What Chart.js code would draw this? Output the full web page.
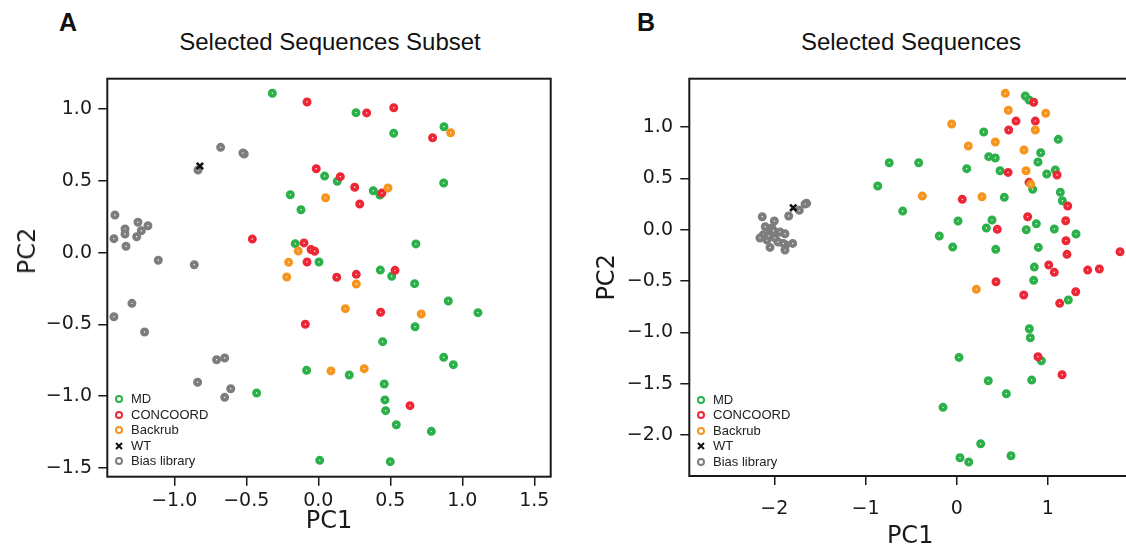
<!DOCTYPE html>
<html>
<head>
<meta charset="utf-8">
<script src="https://cdn.jsdelivr.net/npm/chart.js@4.4.0/dist/chart.umd.min.js"></script>
<style>
  html, body { margin: 0; padding: 0; background: #fff; }
  body { width: 1126px; height: 547px; overflow: hidden; position: relative; }
  canvas { position: absolute; top: 0; }
  .lbl { position: absolute; font-family: "Liberation Sans", Arial, sans-serif; color: #111; white-space: nowrap; }
  .letter { font-weight: bold; font-size: 25px; }
  .title { font-size: 24px; transform: translateX(-50%); }
  .axtitle { position: absolute; font-family: "DejaVu Sans", sans-serif; font-size: 24px; color: #1a1a1a; white-space: nowrap;
             transform: translate(-50%, -50%) rotate(-90deg); }
  .legend { position: absolute; font-family: "Liberation Sans", Arial, sans-serif; font-size: 13px; color: #222; }
  .legend .row { height: 15.5px; line-height: 15.5px; position: relative; padding-left: 18px; }
  .legend .mk { position: absolute; left: 2px; top: 4px; width: 4px; height: 4px; border: 2px solid; border-radius: 50%; }
  .legend svg { position: absolute; left: 2px; top: 4px; }
</style>
</head>
<body>
<div class="lbl letter" style="left:59px; top:8px;">A</div>
<div class="lbl title" style="left:330px; top:28px;">Selected Sequences Subset</div>
<div class="lbl letter" style="left:637px; top:8px;">B</div>
<div class="lbl title" style="left:911px; top:28px;">Selected Sequences</div>

<canvas id="chartA" width="563" height="560" style="left:0px; width:563px; height:560px;"></canvas>
<canvas id="chartB" width="560" height="560" style="left:580px; width:560px; height:560px;"></canvas>

<div class="axtitle" style="left:27px; top:251px;">PC2</div>

<div class="legend" id="legendA" style="left:113px; top:391px;"></div>
<div class="legend" id="legendB" style="left:695px; top:391.5px;"></div>

<script>
// series names and colours
const seriesNames = ['MD', 'CONCOORD', 'Backrub', 'WT', 'Bias library'];
const seriesColors = ['#2cb04a', '#ee2737', '#f7941d', '#111111', '#7d7d7d'];

// ---- Panel A: Selected Sequences Subset (PC1, PC2) ----
const aMD = [
  [-0.319, 1.111], [0.044, 0.534], [-0.194, 0.404], [-0.120, 0.299], [-0.160, 0.063],
  [0.005, -0.065], [0.262, 0.976], [0.524, 0.832], [0.873, 0.878], [0.132, 0.498],
  [0.382, 0.432], [0.428, 0.402], [0.871, 0.486], [0.678, 0.061], [0.431, -0.121],
  [0.510, -0.164], [0.669, -0.216], [0.903, -0.337], [1.109, -0.418], [0.672, -0.516],
  [0.447, -0.620], [0.871, -0.729], [0.938, -0.780], [0.215, -0.852], [0.458, -0.915],
  [0.463, -1.026], [0.468, -1.101], [0.542, -1.199], [0.785, -1.245], [-0.081, -0.820],
  [-0.428, -0.978], [0.010, -1.447], [0.500, -1.456]
];
const aCONCOORD = [
  [-0.078, 1.050], [0.336, 0.974], [0.524, 1.010], [0.794, 0.801], [-0.014, 0.585],
  [0.153, 0.530], [0.253, 0.456], [0.442, 0.416], [0.288, 0.339], [-0.458, 0.095],
  [-0.099, 0.068], [-0.050, 0.022], [-0.025, 0.010], [-0.078, -0.065], [0.128, -0.171],
  [0.264, -0.151], [0.533, -0.123], [0.433, -0.415], [-0.090, -0.499], [0.637, -1.066]
];
const aBackrub = [
  [0.919, 0.836], [0.051, 0.383], [0.484, 0.451], [-0.139, 0.012], [-0.206, -0.067],
  [-0.219, -0.169], [0.264, -0.218], [0.188, -0.390], [0.715, -0.427], [0.088, -0.824],
  [0.319, -0.808]
];
const aWT = [[-0.822, 0.604]];
const aBias = [
  [-0.678, 0.734], [-0.514, 0.688], [-0.523, 0.695], [-0.835, 0.576], [-1.412, 0.263],
  [-1.252, 0.212], [-1.183, 0.188], [-1.342, 0.165], [-1.229, 0.153], [-1.342, 0.130],
  [-1.419, 0.098], [-1.261, 0.111], [-1.335, 0.045], [-1.111, -0.053], [-0.861, -0.084],
  [-1.294, -0.353], [-1.419, -0.446], [-1.206, -0.553], [-0.706, -0.746], [-0.650, -0.734],
  [-0.838, -0.903], [-0.608, -0.948], [-0.650, -1.008]
];
const aXTicks = [-1.0, -0.5, 0.0, 0.5, 1.0, 1.5];
const aYTicks = [-1.5, -1.0, -0.5, 0.0, 0.5, 1.0];
const aXRange = [-1.465, 1.614];
const aYRange = [-1.561, 1.2125];

// ---- Panel B: Selected Sequences (PC1, PC2) ----
const bMD = [
  [-0.866, 0.426], [-0.740, 0.653], [0.752, 1.303], [0.793, 1.264], [0.296, 0.952],
  [1.114, 0.881], [0.921, 0.750], [0.351, 0.712], [0.423, 0.699], [0.891, 0.660],
  [-0.417, 0.653], [0.110, 0.595], [0.475, 0.575], [0.987, 0.543], [1.081, 0.582],
  [0.833, 0.394], [1.136, 0.365], [1.158, 0.283], [0.522, 0.316], [-0.592, 0.182],
  [0.014, 0.085], [0.387, 0.095], [0.325, 0.017], [0.873, 0.058], [0.763, 0.000],
  [1.070, 0.007], [1.308, -0.042], [-0.191, -0.061], [-0.044, -0.169], [0.428, -0.191],
  [0.895, -0.172], [0.851, -0.364], [0.844, -0.493], [1.224, -0.685], [0.796, -0.965],
  [0.807, -1.053], [0.025, -1.244], [0.928, -1.277], [0.346, -1.472], [0.822, -1.465],
  [0.544, -1.598], [-0.150, -1.731], [0.263, -2.086], [0.036, -2.222], [0.132, -2.264],
  [0.595, -2.203]
];
const bCONCOORD = [
  [0.844, 1.242], [0.650, 1.059], [0.862, 1.059], [0.570, 0.972], [0.563, 0.559],
  [1.100, 0.533], [0.793, 0.462], [0.061, 0.296], [1.217, 0.231], [0.778, 0.127],
  [0.445, 0.004], [1.195, 0.088], [1.198, -0.107], [1.209, -0.240], [1.791, -0.214],
  [1.009, -0.344], [1.070, -0.415], [1.436, -0.393], [1.564, -0.383], [0.431, -0.507],
  [0.735, -0.636], [1.305, -0.604], [1.129, -0.717], [0.891, -1.238], [1.155, -1.413]
];
const bBackrub = [
  [0.533, 1.329], [0.566, 1.164], [0.976, 1.135], [-0.055, 1.030], [0.862, 0.972],
  [0.127, 0.816], [0.423, 0.855], [0.738, 0.777], [0.760, 0.575], [0.811, 0.445],
  [-0.377, 0.328], [0.277, 0.322], [0.215, -0.581]
];
const bWT = [[-1.792, 0.214]];
const bBias = [
  [-2.132, 0.127], [-2.000, 0.085], [-2.099, 0.029], [-2.047, -0.035], [-2.124, -0.052],
  [-2.080, -0.100], [-1.992, -0.081], [-1.938, -0.022], [-2.025, 0.017], [-2.157, -0.081],
  [-1.959, -0.120], [-1.883, -0.039], [-1.842, 0.134], [-1.726, 0.189], [-1.645, 0.257],
  [-1.663, 0.250], [-2.047, -0.172], [-1.883, -0.198], [-1.875, -0.149], [-1.798, -0.133],
  [-1.901, -0.133], [-2.060, -0.060], [-2.010, -0.010]
];
const bXTicks = [-2, -1, 0, 1];
const bYTicks = [-2.0, -1.5, -1.0, -0.5, 0.0, 0.5, 1.0];
const bXRange = [-2.932, 1.911];
const bYRange = [-2.400, 1.472];

function fmt(v, dec) {
  const s = Math.abs(v).toFixed(dec);
  return v < 0 ? '\u2212' + s : s;
}

const boxPlugin = {
  id: 'box',
  afterDraw(chart) {
    const a = chart.chartArea, ctx = chart.ctx;
    ctx.save();
    ctx.strokeStyle = '#1a1a1a';
    ctx.lineWidth = 2;
    ctx.strokeRect(a.left, a.top, a.right - a.left, a.bottom - a.top);
    ctx.restore();
  }
};

function makeDatasets(groups) {
  return groups.map(function (pts, i) {
    const isWT = i === 3;
    return {
      label: seriesNames[i],
      data: pts.map(p => ({ x: p[0], y: p[1] })),
      pointStyle: isWT ? 'crossRot' : 'circle',
      pointRadius: isWT ? 4.5 : 2.6,
      pointBorderWidth: isWT ? 2.6 : 3.8,
      borderColor: seriesColors[i],
      backgroundColor: '#ffffff',
      order: [4, 3, 2, 0, 1][i]
    };
  });
}

function axis(opts) {
  return {
    type: 'linear',
    min: opts.range[0],
    max: opts.range[1],
    afterBuildTicks: s => { s.ticks = opts.ticks.map(v => ({ value: v })); },
    afterFit: s => { if (opts.width) s.width = opts.width; if (opts.height) s.height = opts.height; },
    border: { display: false },
    grid: { drawOnChartArea: false, drawTicks: true, tickLength: 9, color: '#1a1a1a', lineWidth: 1.5 },
    ticks: {
      autoSkip: false,
      maxRotation: 0,
      padding: opts.pad,
      color: '#1a1a1a',
      font: { family: 'DejaVu Sans', size: 19 },
      callback: v => fmt(v, opts.dec)
    },
    title: {
      display: !!opts.title,
      text: opts.title || '',
      color: '#1a1a1a',
      font: { family: 'DejaVu Sans', size: 24 },
      padding: opts.tpad || 0
    }
  };
}

function makeChart(id, groups, xo, yo, padding) {
  return new Chart(document.getElementById(id), {
    type: 'scatter',
    data: { datasets: makeDatasets(groups) },
    options: {
      responsive: false,
      animation: false,
      layout: { padding: padding },
      plugins: { legend: { display: false }, tooltip: { enabled: false } },
      scales: { x: axis(xo), y: axis(yo) }
    },
    plugins: [boxPlugin]
  });
}

makeChart('chartA', [aMD, aCONCOORD, aBackrub, aWT, aBias],
  { range: aXRange, ticks: aXTicks, dec: 1, height: 83.3, pad: 4, title: 'PC1', tpad: 23.6 },
  { range: aYRange, ticks: aYTicks, dec: 1, width: 107.3, pad: 6.3, title: null },
  { left: 0, top: 78.7, right: 12.3, bottom: 0 });

makeChart('chartB', [bMD, bCONCOORD, bBackrub, bWT, bBias],
  { range: bXRange, ticks: bXTicks, dec: 0, height: 84, pad: 13, title: 'PC1', tpad: 8.5 },
  { range: bYRange, ticks: bYTicks, dec: 1, width: 109.3, pad: 7.3, title: 'PC2', tpad: 13.6 },
  { left: 0, top: 78.7, right: 9, bottom: 0 });

// legends inside the plots
function buildLegend(id) {
  const box = document.getElementById(id);
  seriesNames.forEach(function (name, i) {
    const row = document.createElement('div');
    row.className = 'row';
    if (i === 3) {
      row.innerHTML = '<svg width="8" height="8"><path d="M1 1L7 7M7 1L1 7" stroke="#111" stroke-width="2"/></svg>';
    } else {
      const mk = document.createElement('span');
      mk.className = 'mk';
      mk.style.borderColor = seriesColors[i];
      row.appendChild(mk);
    }
    row.appendChild(document.createTextNode(name));
    box.appendChild(row);
  });
}
buildLegend('legendA');
buildLegend('legendB');
</script>
</body>
</html>
